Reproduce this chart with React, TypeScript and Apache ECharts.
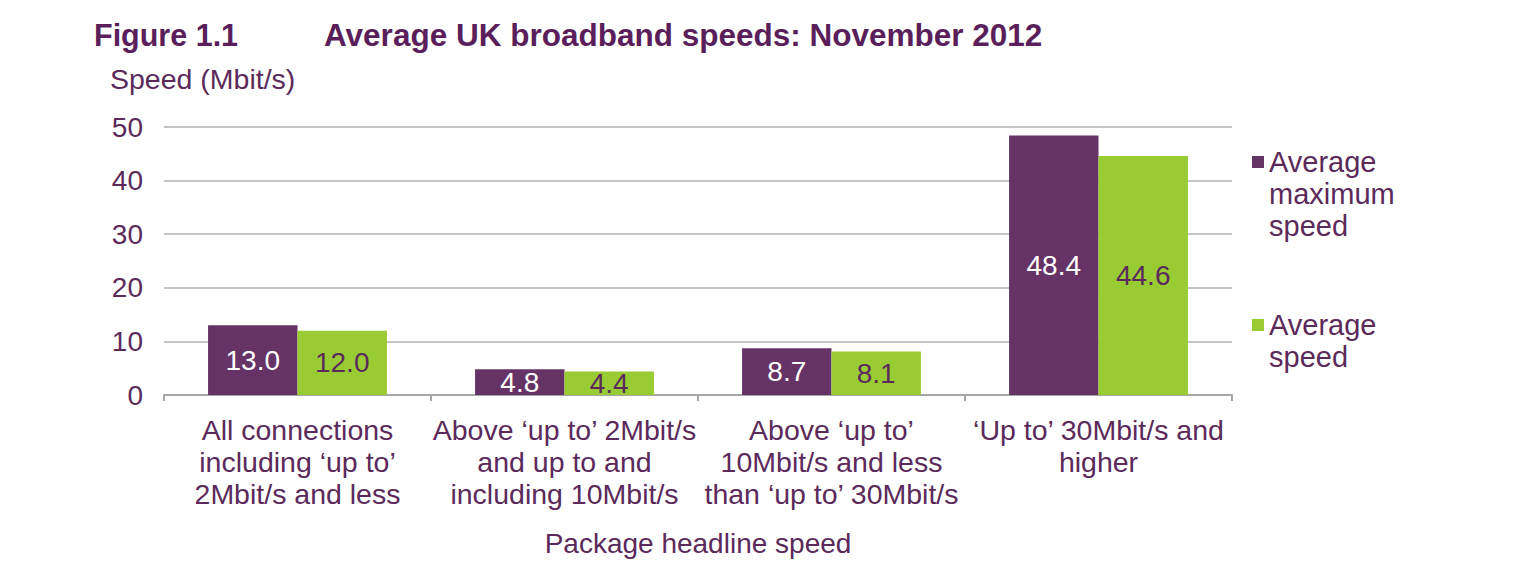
import React, { useEffect, useRef } from "react";
import * as echarts from "echarts";

const categories = [
  "All connections\nincluding ‘up to’\n2Mbit/s and less",
  "Above ‘up to’ 2Mbit/s\nand up to and\nincluding 10Mbit/s",
  "Above ‘up to’\n10Mbit/s and less\nthan ‘up to’ 30Mbit/s",
  "‘Up to’ 30Mbit/s and\nhigher",
];
const maxSpeed = [13.0, 4.8, 8.7, 48.4];
const avgSpeed = [12.0, 4.4, 8.1, 44.6];
const seriesNames = ["Average maximum speed", "Average speed"];
// leading blank lines keep the legend marker level with the first text line
const legendLabels = ["\n\nAverage\nmaximum\nspeed", "\nAverage\nspeed"];

const FONT = "'Liberation Sans', Arial, sans-serif";
const PURPLE = "#663366";
const GREEN = "#99cc33";
const TEXT = "#5b2a5b";

export default function App() {
  const ref = useRef<HTMLDivElement>(null);
  useEffect(() => {
    if (!ref.current) return;
    const chart = echarts.init(ref.current, undefined, { renderer: "svg" });
    chart.setOption({
      animation: false,
      backgroundColor: "#ffffff",
      title: [
        {
          text: "Figure 1.1",
          left: 89,
          top: 14,
          textStyle: { fontFamily: FONT, fontSize: 30.5, fontWeight: "bold", color: "#5a1f5a" },
        },
        {
          text: "Average UK broadband speeds: November 2012",
          left: 319,
          top: 14,
          textStyle: { fontFamily: FONT, fontSize: 31.5, fontWeight: "bold", color: "#5a1f5a" },
        },
        {
          text: "Speed (Mbit/s)",
          left: 105,
          top: 59,
          textStyle: { fontFamily: FONT, fontSize: 28.5, fontWeight: "normal", color: TEXT },
        },
      ],
      legend: {
        orient: "vertical",
        left: 1247,
        top: 77,
        itemWidth: 12,
        itemHeight: 12,
        itemGap: 35,
        icon: "rect",
        selectedMode: false,
        formatter: (name: string) => legendLabels[seriesNames.indexOf(name)],
        data: seriesNames,
        textStyle: { fontFamily: FONT, fontSize: 29, lineHeight: 32, color: TEXT },
      },
      grid: { left: 164, top: 127, width: 1068, height: 268 },
      xAxis: {
        type: "category",
        data: categories,
        name: "Package headline speed",
        nameLocation: "middle",
        nameGap: 134,
        nameTextStyle: { fontFamily: FONT, fontSize: 28, color: TEXT },
        axisLine: { lineStyle: { color: "#a6a6a6", width: 2 } },
        axisTick: { show: true, length: 6, lineStyle: { color: "#a6a6a6", width: 2 } },
        axisLabel: {
          fontFamily: FONT,
          fontSize: 28.5,
          lineHeight: 32,
          color: TEXT,
          margin: 19,
          interval: 0,
        },
      },
      yAxis: {
        type: "value",
        min: 0,
        max: 50,
        interval: 10,
        axisLine: { show: false },
        axisTick: { show: false },
        splitLine: { lineStyle: { color: "#c4c4c4", width: 2 } },
        axisLabel: { fontFamily: FONT, fontSize: 28, color: TEXT, margin: 21 },
      },
      series: [
        {
          name: seriesNames[0],
          type: "bar",
          data: maxSpeed,
          barGap: "0%",
          barCategoryGap: "33%",
          itemStyle: { color: PURPLE },
          label: {
            show: true,
            position: "inside",
            formatter: (p: any) => Number(p.value).toFixed(1),
            fontFamily: FONT,
            fontSize: 28,
            color: "#ffffff",
          },
        },
        {
          name: seriesNames[1],
          type: "bar",
          data: avgSpeed,
          itemStyle: { color: GREEN },
          label: {
            show: true,
            position: "inside",
            formatter: (p: any) => Number(p.value).toFixed(1),
            fontFamily: FONT,
            fontSize: 28,
            color: TEXT,
          },
        },
      ],
    });
    return () => chart.dispose();
  }, []);
  return (
    <div
      ref={ref}
      style={{ position: "fixed", left: 0, top: 0, width: 1535, height: 566 }}
    />
  );
}
